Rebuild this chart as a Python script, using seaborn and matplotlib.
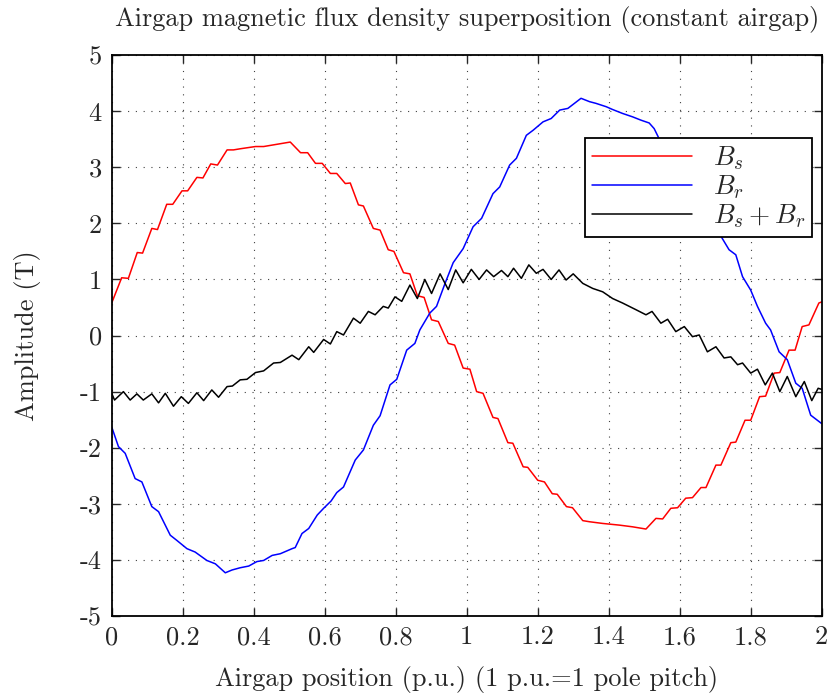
import numpy as np
import pandas as pd
import matplotlib
matplotlib.use("Agg")
import matplotlib.pyplot as plt
import seaborn as sns

# B_s (stator field)
bs_x = [0, 0.028, 0.047, 0.072, 0.087, 0.113, 0.129, 0.155, 0.172, 0.198,
        0.214, 0.24, 0.257, 0.279, 0.298, 0.325, 0.343, 0.362, 0.405, 0.428,
        0.456, 0.503, 0.532, 0.552, 0.574, 0.593, 0.616, 0.634, 0.658, 0.672,
        0.695, 0.709, 0.737, 0.756, 0.779, 0.795, 0.822, 0.840, 0.861, 0.880,
        0.901, 0.920, 0.948, 0.966, 0.99, 1.009, 1.028, 1.046, 1.074, 1.088,
        1.116, 1.13, 1.159, 1.172, 1.2, 1.219, 1.241, 1.255, 1.281, 1.298,
        1.327, 1.346, 1.383, 1.43, 1.467, 1.505, 1.533, 1.552, 1.575, 1.594,
        1.617, 1.636, 1.66, 1.674, 1.702, 1.716, 1.744, 1.758, 1.784, 1.8,
        1.825, 1.842, 1.866, 1.882, 1.908, 1.925, 1.945, 1.964, 1.992, 2.0]
bs_y = [0.58, 1.03, 1.02, 1.48, 1.47, 1.91, 1.89, 2.34, 2.34, 2.58,
        2.58, 2.82, 2.81, 3.06, 3.04, 3.31, 3.31, 3.33, 3.37, 3.37,
        3.40, 3.45, 3.26, 3.26, 3.07, 3.07, 2.89, 2.89, 2.71, 2.72,
        2.33, 2.31, 1.91, 1.88, 1.53, 1.50, 1.12, 1.10, 0.71, 0.68,
        0.28, 0.25, -0.14, -0.17, -0.58, -0.60, -1.0, -1.03, -1.46, -1.48,
        -1.91, -1.92, -2.34, -2.35, -2.58, -2.61, -2.82, -2.83, -3.05, -3.07,
        -3.30, -3.32, -3.35, -3.38, -3.41, -3.45, -3.26, -3.27, -3.08, -3.07,
        -2.90, -2.89, -2.71, -2.71, -2.31, -2.31, -1.91, -1.90, -1.51, -1.51,
        -1.09, -1.08, -0.67, -0.66, -0.26, -0.26, 0.16, 0.19, 0.58, 0.60]

# B_r (rotor field)
br_x = [0, 0.019, 0.038, 0.066, 0.085, 0.113, 0.132, 0.165, 0.183, 0.212,
        0.235, 0.268, 0.292, 0.32, 0.339, 0.362, 0.386, 0.409, 0.428, 0.452,
        0.475, 0.508, 0.517, 0.536, 0.555, 0.579, 0.597, 0.618, 0.634, 0.653,
        0.686, 0.709, 0.737, 0.756, 0.784, 0.803, 0.831, 0.854, 0.868, 0.896,
        0.915, 0.939, 0.962, 0.99, 1.018, 1.042, 1.074, 1.093, 1.121, 1.140,
        1.168, 1.187, 1.215, 1.238, 1.262, 1.285, 1.322, 1.346, 1.364, 1.393,
        1.411, 1.439, 1.467, 1.491, 1.514, 1.528, 1.542, 1.58, 1.62, 1.66,
        1.70, 1.72, 1.739, 1.758, 1.777, 1.80, 1.819, 1.842, 1.856, 1.88,
        1.903, 1.927, 1.945, 1.969, 2.0]
br_y = [-1.63, -1.98, -2.10, -2.55, -2.61, -3.05, -3.14, -3.56, -3.65, -3.80,
        -3.86, -4.01, -4.07, -4.23, -4.18, -4.14, -4.11, -4.03, -4.01, -3.92,
        -3.89, -3.80, -3.78, -3.53, -3.44, -3.20, -3.08, -2.95, -2.80, -2.70,
        -2.22, -2.04, -1.60, -1.43, -0.88, -0.78, -0.26, -0.14, 0.10, 0.40,
        0.52, 0.93, 1.30, 1.55, 1.94, 2.09, 2.53, 2.65, 3.04, 3.16,
        3.57, 3.66, 3.81, 3.87, 4.02, 4.05, 4.23, 4.17, 4.14, 4.08,
        4.03, 3.96, 3.90, 3.84, 3.79, 3.69, 3.51, 3.10, 2.70, 2.30,
        1.95, 1.73, 1.53, 1.44, 1.05, 0.81, 0.52, 0.22, 0.10, -0.29,
        -0.43, -0.85, -0.94, -1.42, -1.57]

# B_s + B_r (resultant)
sum_x = [0, 0.008, 0.033, 0.052, 0.071, 0.089, 0.113, 0.132, 0.151, 0.174,
         0.196, 0.216, 0.24, 0.259, 0.282, 0.301, 0.325, 0.34, 0.362, 0.381,
         0.405, 0.428, 0.456, 0.475, 0.508, 0.527, 0.555, 0.569, 0.597, 0.616,
         0.634, 0.653, 0.681, 0.70, 0.723, 0.742, 0.765, 0.779, 0.798, 0.817,
         0.84, 0.861, 0.882, 0.901, 0.925, 0.948, 0.969, 0.99, 1.013, 1.035,
         1.056, 1.076, 1.098, 1.116, 1.132, 1.154, 1.175, 1.196, 1.215, 1.238,
         1.26, 1.28, 1.30, 1.327, 1.355, 1.383, 1.411, 1.439, 1.477, 1.505,
         1.522, 1.547, 1.566, 1.589, 1.613, 1.636, 1.655, 1.678, 1.702, 1.725,
         1.744, 1.763, 1.777, 1.80, 1.819, 1.841, 1.861, 1.882, 1.903, 1.927,
         1.951, 1.972, 1.99, 2.0]
sum_y = [-1.03, -1.15, -1.0, -1.15, -1.04, -1.15, -1.04, -1.20, -1.03, -1.26,
         -1.09, -1.21, -1.02, -1.16, -0.97, -1.10, -0.91, -0.90, -0.79, -0.78,
         -0.66, -0.63, -0.49, -0.48, -0.35, -0.43, -0.20, -0.30, -0.07, -0.15,
         0.07, 0.01, 0.31, 0.22, 0.43, 0.37, 0.52, 0.49, 0.69, 0.61,
         0.90, 0.66, 1.0, 0.75, 1.10, 0.82, 1.17, 0.94, 1.18, 1.0,
         1.17, 1.05, 1.16, 1.05, 1.20, 1.02, 1.26, 1.11, 1.18, 1.0,
         1.17, 0.99, 1.10, 0.93, 0.84, 0.78, 0.66, 0.58, 0.46, 0.37,
         0.43, 0.22, 0.29, 0.07, 0.16, -0.02, 0.01, -0.29, -0.20, -0.40,
         -0.38, -0.52, -0.49, -0.67, -0.60, -0.88, -0.67, -1.0, -0.73, -1.09,
         -0.82, -1.16, -0.94, -0.96]

x_ticks = [0, 0.2, 0.4, 0.6, 0.8, 1, 1.2, 1.4, 1.6, 1.8, 2]
x_tick_labels = ["0", "0.2", "0.4", "0.6", "0.8", "1", "1.2", "1.4", "1.6", "1.8", "2"]
y_ticks = list(range(-5, 6))

sns.set_style("ticks")
plt.rcParams['font.family'] = ['cmr10', 'DejaVu Serif']
plt.rcParams['mathtext.fontset'] = 'cm'
plt.rcParams['axes.unicode_minus'] = False
plt.rcParams['axes.formatter.use_mathtext'] = True

fig = plt.figure(figsize=(8.28, 6.95), dpi=100)
ax = fig.add_axes([0.1349, 0.1137, 0.8575, 0.807])

sns.lineplot(x=bs_x, y=bs_y, ax=ax, color='#ff0000', lw=1.1, label=r'$B_s$', estimator=None, sort=False)
sns.lineplot(x=br_x, y=br_y, ax=ax, color='#0000ff', lw=1.1, label=r'$B_r$', estimator=None, sort=False)
sns.lineplot(x=sum_x, y=sum_y, ax=ax, color='black', lw=1.1, label=r'$B_s + B_r$', estimator=None, sort=False)

ax.set_xlim(0, 2)
ax.set_ylim(-5, 5)
ax.set_xticks(x_ticks)
ax.set_xticklabels(x_tick_labels)
ax.set_yticks(y_ticks)
ax.set_yticklabels([str(v) for v in y_ticks])
ax.tick_params(direction='in', top=True, right=True, length=6, width=1.0, labelsize=19, pad=7)
ax.grid(True, color='0.25', linestyle=(0, (1, 6)), linewidth=0.8)
for s in ax.spines.values():
    s.set_linewidth(1.3)
    s.set_color('black')

ax.set_title('Airgap magnetic flux density superposition (constant airgap)', fontsize=19, pad=21)
ax.set_xlabel('Airgap position (p.u.) (1 p.u.=1 pole pitch)', fontsize=19, labelpad=12)
ax.set_ylabel('Amplitude (T)', fontsize=19, labelpad=28)

leg = ax.legend(loc='upper right', bbox_to_anchor=(0.986, 0.852), fontsize=19.5, handlelength=3.7,
                frameon=True, fancybox=False, edgecolor='black', framealpha=1, borderpad=0.25,
                labelspacing=0.05, handletextpad=0.75, borderaxespad=0)
leg.get_frame().set_linewidth(1.3)

fig.savefig('out.png', dpi=100)
